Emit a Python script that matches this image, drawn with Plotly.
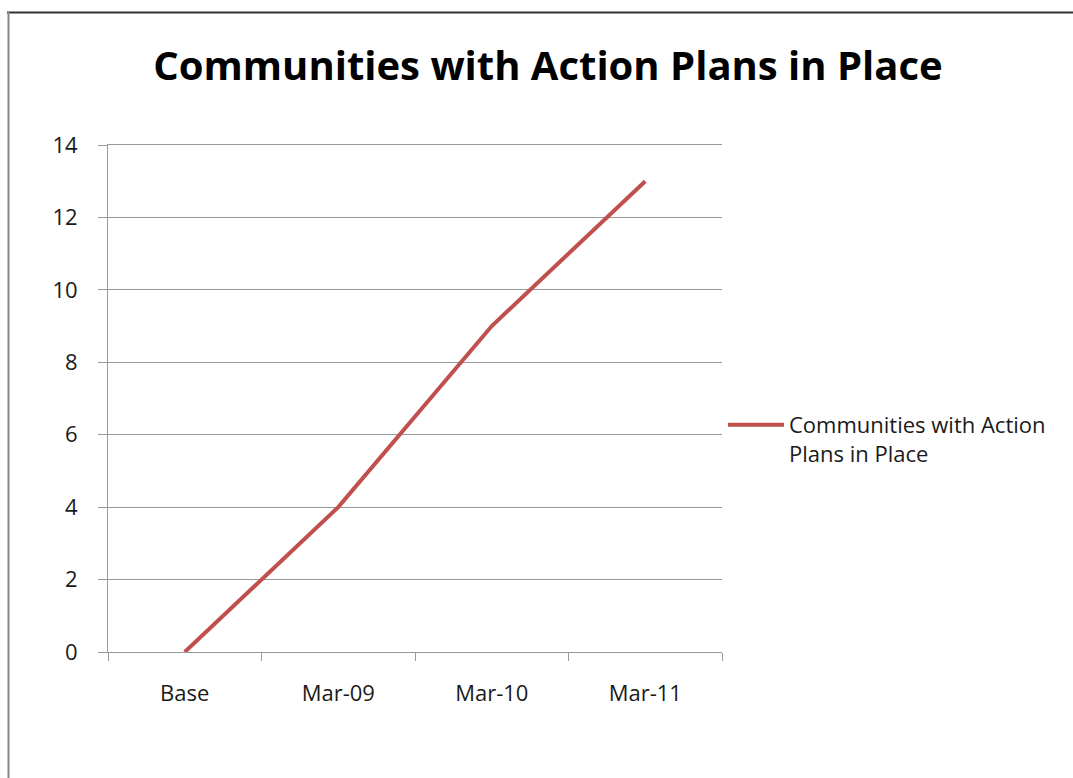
import plotly.graph_objects as go

# Series data
periods = ["Base", "Mar-09", "Mar-10", "Mar-11"]
plans_in_place = [0, 4, 9, 13]
y_ticks = [0, 2, 4, 6, 8, 10, 12, 14]

W, H = 1073, 778
L, R, T, B = 108, 722, 145, 652

def px_x(px):
    return (px - L) / (R - L)

def px_y(py):
    return (B - py) / (B - T)

font_family = "Open Sans, Noto Sans, sans-serif"
axis_grey = "#999999"
text_col = "#1a1a1a"

fig = go.Figure()
fig.add_trace(go.Scatter(
    x=periods,
    y=plans_in_place,
    mode="lines",
    line=dict(color="#C0504D", width=4),
    name="Communities with Action<br>Plans in Place",
))

fig.update_layout(
    width=W,
    height=H,
    margin=dict(l=L, r=W - R, t=T, b=H - B, pad=0),
    paper_bgcolor="white",
    plot_bgcolor="white",
    title=dict(
        text="<b>Communities with Action Plans in Place</b>",
        x=548 / W,
        xref="container",
        xanchor="center",
        y=1 - 66 / H,
        yref="container",
        yanchor="middle",
        font=dict(family=font_family, size=40, color="black"),
    ),
    showlegend=True,
    legend=dict(
        x=px_x(723),
        y=px_y(404),
        xanchor="left",
        yanchor="top",
        valign="top",
        itemwidth=56,
        font=dict(family=font_family, size=22, color=text_col),
        bgcolor="rgba(0,0,0,0)",
        tracegroupgap=0,
    ),
    xaxis=dict(
        type="category",
        range=[-0.5, 3.5],
        tickson="boundaries",
        ticks="outside",
        ticklen=8,
        tickcolor=axis_grey,
        tickwidth=1,
        showline=True,
        mirror=True,
        linecolor=axis_grey,
        linewidth=1,
        showgrid=False,
        ticklabelstandoff=22,
        tickfont=dict(family=font_family, size=22, color=text_col),
        fixedrange=True,
    ),
    yaxis=dict(
        range=[0, 14],
        tickvals=y_ticks,
        ticks="outside",
        ticklen=9,
        tickcolor=axis_grey,
        showline=True,
        linecolor=axis_grey,
        linewidth=1,
        showgrid=True,
        gridcolor=axis_grey,
        gridwidth=1,
        zeroline=False,
        ticklabelstandoff=16,
        tickfont=dict(family=font_family, size=22, color=text_col),
        fixedrange=True,
    ),
    shapes=[
        # top frame edge
        dict(type="line", xref="paper", yref="paper",
             x0=px_x(7), x1=px_x(1073), y0=px_y(12.5), y1=px_y(12.5),
             line=dict(color="#333333", width=2)),
        # left frame edge
        dict(type="line", xref="paper", yref="paper",
             x0=px_x(8.5), x1=px_x(8.5), y0=px_y(12), y1=px_y(778),
             line=dict(color="#888888", width=2)),
    ],
)

fig.write_html("out.html")
